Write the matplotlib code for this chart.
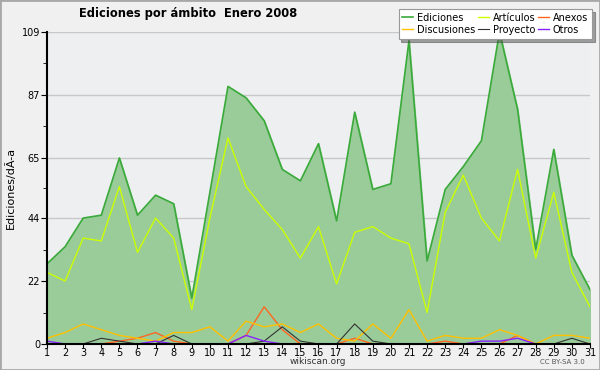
import matplotlib
matplotlib.use("Agg")
import matplotlib.pyplot as plt
from matplotlib.patches import Rectangle

dias = list(range(1, 32))
ediciones = [28, 34, 44, 45, 65, 45, 52, 49, 16, 53, 90, 86, 78, 61, 57, 70,
             43, 81, 54, 56, 106, 29, 54, 62, 71, 109, 82, 33, 68, 31, 19]
articulos = [25, 22, 37, 36, 55, 32, 44, 37, 12, 44, 72, 55, 47, 40, 30, 41,
             21, 39, 41, 37, 35, 11, 46, 59, 44, 36, 61, 30, 53, 25, 13]
discusiones = [2, 4, 7, 5, 3, 2, 1, 4, 4, 6, 1, 8, 6, 7, 4, 7,
               2, 1, 7, 2, 12, 1, 3, 2, 2, 5, 3, 0, 3, 3, 2]
anexos = [0, 0, 0, 0, 1, 2, 4, 1, 0, 0, 0, 3, 13, 5, 0, 0,
          0, 2, 0, 0, 0, 0, 1, 0, 0, 0, 3, 0, 0, 0, 0]
proyecto = [0, 0, 0, 2, 1, 0, 0, 3, 0, 0, 0, 0, 1, 6, 1, 0,
            0, 7, 1, 0, 0, 0, 0, 0, 0, 0, 0, 0, 0, 2, 0]
otros = [1, 0, 0, 0, 0, 0, 1, 0, 0, 0, 0, 3, 1, 0, 0, 0,
         0, 0, 0, 0, 0, 0, 0, 0, 1, 1, 2, 0, 0, 0, 0]

yticks = [0, 22, 44, 65, 87, 109]

fig = plt.figure(figsize=(6, 3.7), dpi=100, facecolor="#f0f0f0")
fig.patches.append(Rectangle((0, 0), 1, 1, transform=fig.transFigure,
                             fill=False, edgecolor="#a8a8a8", linewidth=2))
ax = fig.add_axes([0.0783, 0.0703, 0.905, 0.8432])
ax.set_facecolor("#eeeff1")

ax.fill_between(dias, ediciones, 0, color="#99cc99", zorder=2)
ax.plot(dias, ediciones, color="#3aaa3a", lw=1.2, label="Ediciones", zorder=3)
ax.plot(dias, articulos, color="#ccff00", lw=1, label="Artículos", zorder=3)
ax.plot(dias, anexos, color="#ff6622", lw=1, label="Anexos", zorder=3)
ax.plot(dias, discusiones, color="#ffc000", lw=1, label="Discusiones", zorder=3)
ax.plot(dias, proyecto, color="#333333", lw=0.8, label="Proyecto", zorder=3)
ax.plot(dias, otros, color="#8822ff", lw=1, label="Otros", zorder=3)

ax.set_xlim(1, 31)
ax.set_ylim(0, 109)
ax.set_xticks(dias)
ax.set_yticks(yticks)
ax.set_yticks([10.9 * k for k in range(1, 10, 2)], minor=True)
ax.tick_params(axis="y", labelsize=7, length=4, width=0.8, pad=1)
ax.tick_params(axis="x", labelsize=7, length=3, width=0.8, pad=0)
ax.tick_params(axis="y", which="minor", length=3)
ax.grid(axis="y", color="#c8c8c8", lw=1, zorder=1)
ax.set_axisbelow(True)
for s in ["top", "right"]:
    ax.spines[s].set_visible(False)
for s in ["left", "bottom"]:
    ax.spines[s].set_linewidth(1.5)
    ax.spines[s].set_zorder(5)
ax.set_ylabel("Ediciones/dÃ-a", fontsize=8, labelpad=4)

fig.text(188 / 600, 1 - 14 / 370, "Ediciones por ámbito  Enero 2008",
         ha="center", va="center", fontsize=8.3, fontweight="bold")
fig.text(318 / 600, 1 - 362 / 370, "wikiscan.org", ha="center", va="center",
         fontsize=6.5, color="#333333")
fig.text(585 / 600, 1 - 362 / 370, "CC BY-SA 3.0", ha="right", va="center",
         fontsize=5, color="#555555")

h, l = ax.get_legend_handles_labels()
order = [0, 3, 1, 4, 2, 5]
leg = fig.legend([h[i] for i in order], [l[i] for i in order], ncol=3,
                 loc="upper right", bbox_to_anchor=(592 / 600, 1 - 9 / 370),
                 fontsize=7, frameon=True, fancybox=False, shadow=True,
                 handlelength=1.1, handletextpad=0.4, columnspacing=0.3,
                 labelspacing=0.2, borderpad=0.4, borderaxespad=0)
leg.get_frame().set_edgecolor("#999999")
leg.get_frame().set_linewidth(0.8)
leg.set_zorder(10)

fig.savefig("out.png", dpi=100, facecolor=fig.get_facecolor())
